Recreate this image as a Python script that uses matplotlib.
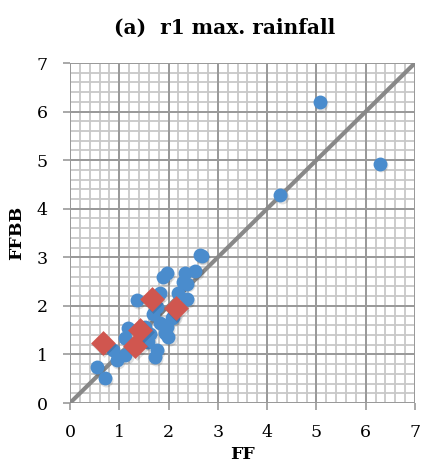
import matplotlib
matplotlib.use("Agg")
import matplotlib.pyplot as plt
import numpy as np
from matplotlib.ticker import MultipleLocator

# Data (FF, FFBB)
blue_x = [0.54, 0.71, 0.88, 0.95, 1.12, 1.12, 1.18, 1.35, 1.52, 1.59, 1.62, 1.69, 1.72, 1.76,
          1.76, 1.83, 1.83, 1.89, 1.93, 1.96, 1.96, 1.99, 2.06, 2.10, 2.20, 2.29, 2.33, 2.37,
          2.37, 2.54, 2.64, 2.67, 4.27, 5.07, 6.28]
blue_y = [0.75, 0.51, 1.09, 0.88, 0.99, 1.33, 1.54, 2.12, 1.57, 1.26, 1.43, 1.84, 0.95, 1.09,
          1.98, 1.64, 2.26, 2.59, 1.44, 1.57, 2.67, 1.36, 1.74, 1.78, 2.26, 2.50, 2.67, 2.46,
          2.15, 2.72, 3.05, 3.02, 4.28, 6.20, 4.93]
red_x = [0.66, 1.32, 1.43, 1.66, 2.15]
red_y = [1.24, 1.18, 1.50, 2.15, 1.95]

title = "(a)  r1 max. rainfall"
xlabel = "FF"
ylabel = "FFBB"
ticks = list(range(0, 8))

plt.rcParams['font.family'] = ['DejaVu Serif']

fig = plt.figure(figsize=(4.27, 4.71), dpi=100)
ax = fig.add_axes([70/427, 1-403/471, 345/427, 340/471])

lo, hi = ticks[0], ticks[-1]
ax.set_xlim(lo, hi)
ax.set_ylim(lo, hi)
ax.set_xticks(ticks)
ax.set_yticks(ticks)
ax.xaxis.set_minor_locator(MultipleLocator(0.2))
ax.yaxis.set_minor_locator(MultipleLocator(0.2))
ax.tick_params(which='minor', length=0)
ax.tick_params(which='major', length=5, width=1.2, color='#999999', labelsize=12.5)
ax.xaxis.set_tick_params(pad=10)
ax.yaxis.set_tick_params(pad=11)
for s in ax.spines.values():
    s.set_visible(False)

# grid lines, one plot call per line
minor = np.arange(lo, hi + 1e-9, 0.2)
for v in minor:
    ax.plot([v, v], [lo, hi], color='#c8c8c8', linewidth=1.3, zorder=1)
    ax.plot([lo, hi], [v, v], color='#c8c8c8', linewidth=1.3, zorder=1)
for v in ticks:
    ax.plot([v, v], [lo, hi], color='#999999', linewidth=1.4, zorder=1.1)
    ax.plot([lo, hi], [v, v], color='#999999', linewidth=1.4, zorder=1.1)

ax.plot([lo, hi], [lo, hi], color='#888888', linewidth=3, zorder=2, solid_capstyle='butt')

# shadows
ax.scatter(np.array(blue_x) + 0.03, np.array(blue_y) - 0.04, s=100, color='#000000', alpha=0.12,
           linewidths=0, zorder=3)
ax.scatter(blue_x, blue_y, s=100, color='#4a8ccd', linewidths=0, zorder=4)
ax.scatter(np.array(red_x) + 0.03, np.array(red_y) - 0.04, s=160, marker='D', color='#000000',
           alpha=0.12, linewidths=0, zorder=5)
ax.scatter(red_x, red_y, s=160, marker='D', color='#d0564f', linewidths=0, zorder=6)

ax.set_xlim(lo, hi)
ax.set_ylim(lo, hi)
ax.set_xlabel(xlabel, fontsize=12.5, fontweight='bold', labelpad=4)
ax.set_ylabel(ylabel, fontsize=12.5, fontweight='bold', labelpad=8)
fig.text(0.525, 1 - 28/471, title, ha='center', va='center', fontsize=14.5, fontweight='bold')

fig.savefig("out.png", dpi=100)
